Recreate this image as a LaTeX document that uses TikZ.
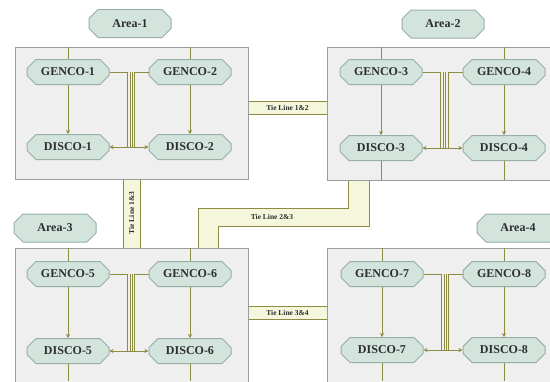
\documentclass[tikz,border=0pt]{standalone}
\usepackage{fontspec}
\setmainfont{Liberation Serif}
\usetikzlibrary{shapes.misc,arrows.meta,calc}
\definecolor{boxfill}{HTML}{EFEFEF}
\definecolor{boxdraw}{HTML}{9C9C9C}
\definecolor{unitfill}{HTML}{D3E4DD}
\definecolor{unitdraw}{HTML}{98AFA6}
\definecolor{olive}{HTML}{8E8C40}
\definecolor{pale}{HTML}{F4F7DC}
\definecolor{txt}{HTML}{2E2E2E}
\tikzset{
  areabox/.style={draw=boxdraw, fill=boxfill, line width=1pt},
  unit/.style={chamfered rectangle, chamfered rectangle xsep=5pt, chamfered rectangle ysep=5pt,
    draw=unitdraw, fill=unitfill, line width=1pt, minimum width=82pt, minimum height=25pt,
    inner sep=0pt, text=txt, font=\fontsize{12}{13}\selectfont\bfseries},
  arealabel/.style={unit, minimum width=82pt, minimum height=28pt},
  feed/.style={draw=olive, line width=0.9pt},
  flow/.style={draw=olive, line width=0.9pt, -{Stealth[length=4pt,width=4pt]}},
  cross/.style={draw=olive, line width=0.9pt, double=pale, double distance=0.8pt},
  crossarr/.style={draw=olive, line width=0.9pt, -{Stealth[length=4pt,width=4pt]}},
  tie/.style={draw=olive, line width=0.9pt},
  tiefill/.style={fill=pale},
  tielabel/.style={text=txt, font=\fontsize{7.5}{8}\selectfont\bfseries, inner sep=0pt}
}
\begin{document}
\begin{tikzpicture}[x=1pt,y=-1pt]
\useasboundingbox (0,0) rectangle (550,381);
\fill[white] (0,0) rectangle (550,381);

% ---- tie lines (behind boxes) ----
% 1&2
\coordinate (t12a) at (246,101); \coordinate (t12b) at (329,101);
\coordinate (t12c) at (246,114); \coordinate (t12d) at (329,114);
\fill[tiefill] (t12a) rectangle (t12d);
\draw[tie] (t12a) -- (t12b); \draw[tie] (t12c) -- (t12d);
% 1&3
\coordinate (t13a) at (123,177); \coordinate (t13b) at (123,250);
\coordinate (t13c) at (140,177); \coordinate (t13d) at (140,250);
\fill[tiefill] (t13a) rectangle (t13d);
\draw[tie] (t13a) -- (t13b); \draw[tie] (t13c) -- (t13d);
% 2&3
\coordinate (t23a) at (348,178); \coordinate (t23b) at (198,250);
\coordinate (t23c) at (369,178); \coordinate (t23d) at (218,250);
\fill[tiefill] (t23a) |- (198,208) -- (t23b) -- (t23d) |- (369,226) -- (t23c) -- cycle;
\draw[tie] (t23a) |- (198,208) -- (t23b);
\draw[tie] (t23c) |- (218,226) -- (t23d);
% 3&4
\coordinate (t34a) at (246,306); \coordinate (t34b) at (329,306);
\coordinate (t34c) at (246,319); \coordinate (t34d) at (329,319);
\fill[tiefill] (t34a) rectangle (t34d);
\draw[tie] (t34a) -- (t34b); \draw[tie] (t34c) -- (t34d);

% ---- area boxes ----
\draw[areabox] (15,47) rectangle (248,179);
\draw[areabox] (327,47) rectangle (560,180);
\draw[areabox] (15,248) rectangle (248,392);
\draw[areabox] (327,248) rectangle (560,392);

% ---- tie labels ----
\node[tielabel] (l12) at (287.5,107.5) {Tie Line 1\&2};
\node[tielabel, rotate=90] (l13) at (131.5,213) {Tie Line 1\&3};
\node[tielabel] (l23) at (272,217) {Tie Line 2\&3};
\node[tielabel] (l34) at (287.5,312.5) {Tie Line 3\&4};

% ---- area labels ----
\node[arealabel] (a1) at (130,23.5) {Area-1};
\node[arealabel] (a2) at (443,24) {Area-2};
\node[arealabel] (a3) at (55,228) {Area-3};
\node[arealabel] (a4) at (518,228) {Area-4};

% ---- units ----
\node[unit] (g1) at (68,72) {GENCO-1};
\node[unit] (g2) at (190,72) {GENCO-2};
\node[unit] (d1) at (68,147) {DISCO-1};
\node[unit] (d2) at (190,147) {DISCO-2};

\node[unit] (g3) at (381,72) {GENCO-3};
\node[unit] (g4) at (504,72) {GENCO-4};
\node[unit] (d3) at (381,148) {DISCO-3};
\node[unit] (d4) at (504,148) {DISCO-4};

\node[unit] (g5) at (68,274) {GENCO-5};
\node[unit] (g6) at (190,274) {GENCO-6};
\node[unit] (d5) at (68,351) {DISCO-5};
\node[unit] (d6) at (190,351) {DISCO-6};

\node[unit] (g7) at (382,274) {GENCO-7};
\node[unit] (g8) at (504,274) {GENCO-8};
\node[unit] (d7) at (382,350) {DISCO-7};
\node[unit] (d8) at (504,350) {DISCO-8};

% ---- feeders from box top ----
\foreach \n/\x/\y in {g1/68/47, g2/190/47, g3/381/47, g4/504/47, g5/68/248, g6/190/248, g7/382/248, g8/504/248}{
  \coordinate (top\n) at (\x,\y);
  \draw[feed] (top\n) -- (\n.north);
}
% ---- feeders to box bottom ----
\foreach \n/\x/\y in {d3/381/180, d4/504/180, d5/68/381, d6/190/381, d7/382/381, d8/504/381}{
  \coordinate (bot\n) at (\x,\y);
  \draw[feed] (\n.south) -- (bot\n);
}

% ---- GENCO -> DISCO ----
\foreach \g/\d in {g1/d1, g2/d2, g3/d3, g4/d4, g5/d5, g6/d6, g7/d7, g8/d8}{
  \draw[flow] (\g.south) -- (\d.north);
}

% ---- cross connections ----
\foreach \ga/\gb/\da/\db in {g1/g2/d1/d2, g3/g4/d3/d4, g5/g6/d5/d6, g7/g8/d7/d8}{
  \draw[cross] ($(\ga.east)+(22,0)$) -- ($(\ga.east |- \da.east)+(22,0)$);
  \draw[crossarr] (\ga.east) -- ++(18,0) |- (\db.west);
  \draw[crossarr] (\gb.west) -- ++(-14,0) |- (\da.east);
}
\end{tikzpicture}
\end{document}
